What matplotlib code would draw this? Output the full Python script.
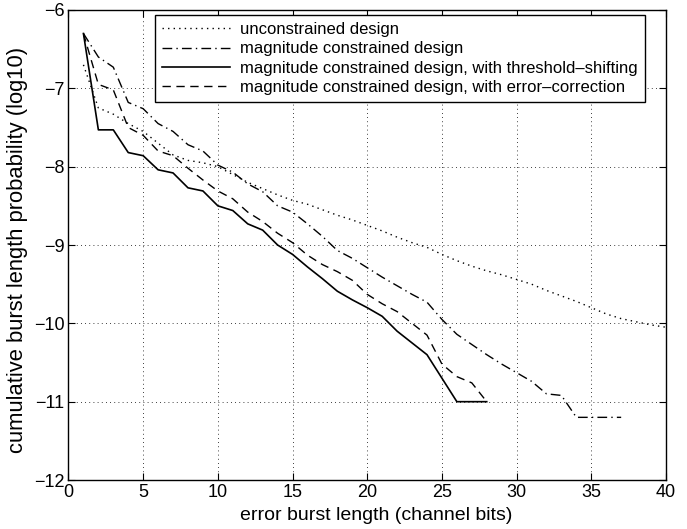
import matplotlib
matplotlib.use("Agg")
import matplotlib.pyplot as plt

plt.rcParams['font.family'] = ['Liberation Sans', 'DejaVu Sans']

# burst length (channel bits) and log10 cumulative burst length probability
x_uncon = list(range(1, 41))
y_uncon = [-6.7, -7.25, -7.33, -7.45, -7.55, -7.7, -7.85, -7.92, -7.95, -8.0,
           -8.1, -8.2, -8.28, -8.36, -8.43, -8.48, -8.55, -8.62, -8.68, -8.75,
           -8.82, -8.9, -8.97, -9.03, -9.12, -9.2, -9.27, -9.33, -9.38, -9.44,
           -9.5, -9.58, -9.65, -9.72, -9.8, -9.88, -9.94, -9.98, -10.02, -10.05]

x_mag = list(range(1, 38))
y_mag = [-6.3, -6.6, -6.73, -7.18, -7.26, -7.45, -7.55, -7.72, -7.8, -7.98,
         -8.07, -8.22, -8.32, -8.5, -8.58, -8.73, -8.89, -9.07, -9.17, -9.29,
         -9.41, -9.52, -9.63, -9.73, -9.95, -10.14, -10.27, -10.4, -10.52, -10.63,
         -10.74, -10.9, -10.92, -11.2, -11.2, -11.2, -11.2]

x_shift = list(range(1, 29))
y_shift = [-6.3, -7.53, -7.53, -7.82, -7.86, -8.04, -8.08, -8.27, -8.31, -8.5,
           -8.56, -8.73, -8.81, -9.0, -9.12, -9.28, -9.43, -9.59, -9.7, -9.8,
           -9.91, -10.1, -10.25, -10.4, -10.7, -11.0, -11.0, -11.0]

x_ecc = list(range(1, 29))
y_ecc = [-6.3, -6.95, -7.02, -7.5, -7.6, -7.8, -7.86, -8.02, -8.17, -8.31,
         -8.41, -8.58, -8.7, -8.85, -8.97, -9.13, -9.25, -9.34, -9.45, -9.63,
         -9.75, -9.85, -10.0, -10.15, -10.52, -10.68, -10.76, -11.0]

labels = ["unconstrained design",
          "magnitude constrained design",
          "magnitude constrained design, with threshold\u2013shifting",
          "magnitude constrained design, with error\u2013correction"]

xticks = [0, 5, 10, 15, 20, 25, 30, 35, 40]
yticks = [-12, -11, -10, -9, -8, -7, -6]

fig = plt.figure(figsize=(6.87, 5.29), dpi=100)
ax = fig.add_axes([0.0997, 0.0926, 0.8697, 0.8885])

lw = 1.0
ax.plot(x_uncon, y_uncon, color='black', lw=lw, linestyle=(0, (1, 3)), label=labels[0])
ax.plot(x_mag, y_mag, color='black', lw=lw, linestyle=(0, (7, 3, 1, 3)), label=labels[1])
ax.plot(x_shift, y_shift, color='black', lw=1.2, linestyle='-', label=labels[2])
ax.plot(x_ecc, y_ecc, color='black', lw=lw, linestyle=(0, (6, 4)), label=labels[3])

ax.set_xlim(0, 40)
ax.set_ylim(-12, -6)
ax.set_xticks(xticks)
ax.set_yticks(yticks)
ax.set_xticklabels([str(t) for t in xticks])
ax.set_yticklabels(["\u2212%d" % abs(t) for t in yticks])
ax.tick_params(direction='in', top=True, right=True, length=5, width=0.8,
               labelsize=13, colors='black', pad=3)
ax.grid(True, color='black', linestyle=(0, (1, 4)), linewidth=0.6)
for s in ax.spines.values():
    s.set_linewidth(1.0)

ax.set_xlabel("error burst length (channel bits)", fontsize=14)
ax.xaxis.set_label_coords(0.515, -0.057)
ax.set_ylabel("cumulative burst length probability (log10)", fontsize=15.8)
ax.yaxis.set_label_coords(-0.068, 0.49)

leg = ax.legend(loc='upper right', bbox_to_anchor=(0.9645, 0.99), fontsize=12,
                frameon=True, fancybox=False, framealpha=1, edgecolor='black',
                handlelength=4.1, handletextpad=0.55, borderpad=0.45,
                labelspacing=0.25, borderaxespad=0)
leg.get_frame().set_linewidth(1.0)

fig.savefig("out.png", dpi=100)
